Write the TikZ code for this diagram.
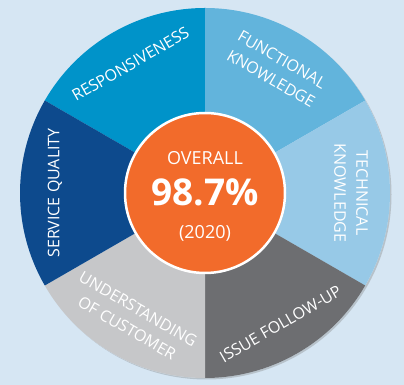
\documentclass[tikz,border=0pt]{standalone}
\usepackage{fontspec}
\setmainfont{Open Sans}
\usetikzlibrary{shadows}

\definecolor{bgblue}{RGB}{214,230,243}
\definecolor{respblue}{RGB}{0,147,201}
\definecolor{funcblue}{RGB}{98,180,220}
\definecolor{techblue}{RGB}{151,201,231}
\definecolor{issuegray}{RGB}{109,110,113}
\definecolor{undgray}{RGB}{198,199,201}
\definecolor{servblue}{RGB}{13,74,141}
\definecolor{overorange}{RGB}{242,107,43}

\begin{document}
\begin{tikzpicture}[x=1pt,y=1pt,
    seglabel/.style={text=white, inner sep=0pt, align=center,
        font=\fontsize{16}{22}\selectfont},
    midlabel/.style={text=white, inner sep=0pt}]
        \useasboundingbox (0,0) rectangle (404,385);
        \fill[bgblue] (0,0) rectangle (404,385);
        \coordinate (c) at (205,192);

        % Draw the wheel with its six sectors
        \fill[bgblue, drop shadow={opacity=0.35, shadow xshift=1.5pt, shadow yshift=-1.5pt}] (c) circle (185);
        \foreach \a/\col in {150/respblue, 90/funcblue, 30/techblue, -30/issuegray, -90/undgray, -150/servblue} {
            \fill[\col] (c) -- ++(\a:185) arc[start angle=\a, delta angle=-60, radius=185] -- cycle;
        }

        % Sector labels
        \node[seglabel, rotate=30] (resp) at ([shift={(120:149)}]c) {RESPONSIVENESS};
        \node[seglabel, rotate=-30] (func) at ([shift={(60:143)}]c) {FUNCTIONAL\\KNOWLEDGE};
        \node[seglabel, rotate=-90] (tech) at ([shift={(0:146)}]c) {TECHNICAL\\KNOWLEDGE};
        \node[seglabel, rotate=30] (issue) at ([shift={(-60:151)}]c) {ISSUE FOLLOW-UP};
        \node[seglabel, rotate=-30] (under) at ([shift={(-120:145)}]c) {UNDERSTANDING\\OF CUSTOMER};
        \node[seglabel, rotate=90] (serv) at ([shift={(180:150)}]c) {SERVICE QUALITY};

        % Centre disc
        \fill[overorange, draw=white, line width=2.5pt,
            drop shadow={opacity=0.3, shadow xshift=1pt, shadow yshift=-1pt}] (c) circle (80);
        \node[midlabel, font=\fontsize{18}{20}\selectfont] (overall) at (205,227) {OVERALL};
        \node[midlabel, font=\fontsize{37}{40}\selectfont\bfseries] (score) at (205,193) {98.7\%};
        \node[midlabel, font=\fontsize{18}{20}\selectfont] (year) at (205,152) {(2020)};
\end{tikzpicture}
\end{document}
